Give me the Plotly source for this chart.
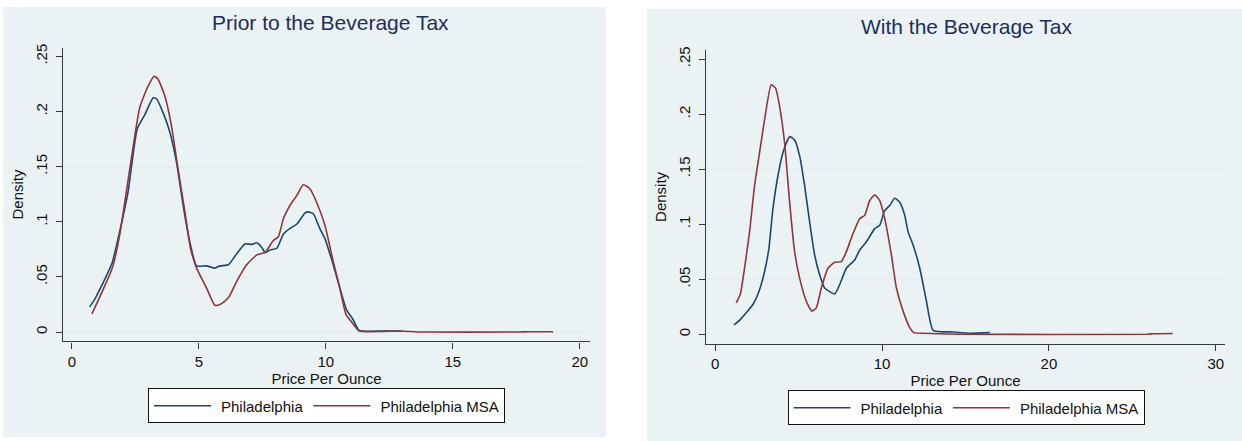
import plotly.graph_objects as go

# ---------------- data ----------------
pre_phila_x = [0.70, 0.89, 1.22, 1.58, 1.88, 2.21, 2.57, 2.87, 3.20, 3.33, 3.59, 3.86, 4.12, 4.38,
               4.64, 4.91, 5.30, 5.63, 5.83, 6.16, 6.49, 6.82, 7.08, 7.28, 7.47, 7.61, 7.80, 8.07,
               8.33, 8.59, 8.86, 9.18, 9.30, 9.50, 9.76, 9.96, 10.29, 10.55, 10.81, 11.07, 11.31,
               12.26, 13.0]
pre_phila_y = [0.0228, 0.0294, 0.0444, 0.0624, 0.091, 0.127, 0.184, 0.197, 0.2125, 0.2116, 0.199,
               0.181, 0.154, 0.115, 0.082, 0.060, 0.060, 0.058, 0.060, 0.061, 0.071, 0.080, 0.0795,
               0.081, 0.077, 0.072, 0.0744, 0.076, 0.089, 0.094, 0.098, 0.108, 0.109, 0.1075, 0.094,
               0.085, 0.061, 0.040, 0.0204, 0.0114, 0.0015, 0.001, 0.0008]

pre_msa_x = [0.79, 1.22, 1.59, 1.88, 2.28, 2.67, 3.00, 3.24, 3.39, 3.66, 3.92, 4.18, 4.45, 4.67,
             4.91, 5.30, 5.63, 5.83, 6.16, 6.49, 6.88, 7.28, 7.61, 7.93, 8.13, 8.33, 8.59, 8.86,
             9.11, 9.37, 9.63, 9.96, 10.29, 10.55, 10.79, 11.07, 11.31, 12.9, 13.83, 17.5, 18.0,
             18.95]
pre_msa_y = [0.0165, 0.038, 0.058, 0.088, 0.148, 0.2035, 0.223, 0.232, 0.2296, 0.214, 0.187, 0.148,
             0.109, 0.076, 0.058, 0.040, 0.0243, 0.025, 0.031, 0.046, 0.061, 0.070, 0.0723, 0.083,
             0.0864, 0.103, 0.115, 0.124, 0.1336, 0.130, 0.118, 0.097, 0.064, 0.040, 0.016, 0.0075,
             0.001, 0.001, 0.0, 0.0, 0.0003, 0.0003]

post_phila_x = [1.12, 1.46, 1.86, 2.26, 2.66, 2.96, 3.22, 3.46, 3.76, 4.06, 4.46, 4.76, 5.06, 5.36,
                5.66, 5.96, 6.26, 6.56, 7.16, 7.46, 7.86, 8.36, 8.66, 9.06, 9.56, 9.86, 10.16, 10.46,
                10.76, 11.06, 11.36, 11.56, 11.86, 12.26, 12.66, 13.06, 14.26, 15.26, 16.45]
post_phila_y = [0.0084, 0.0126, 0.0195, 0.027, 0.0405, 0.057, 0.078, 0.114, 0.144, 0.165, 0.1795,
                0.1765, 0.162, 0.135, 0.102, 0.072, 0.054, 0.042, 0.0366, 0.045, 0.060, 0.0675,
                0.0765, 0.084, 0.096, 0.099, 0.1125, 0.117, 0.1236, 0.120, 0.108, 0.093, 0.081,
                0.060, 0.030, 0.0036, 0.002, 0.0008, 0.0015]

post_msa_x = [1.26, 1.50, 1.76, 2.06, 2.36, 2.66, 2.96, 3.36, 3.62, 3.86, 4.16, 4.46, 4.76, 5.06,
              5.46, 5.80, 6.06, 6.36, 6.76, 7.16, 7.56, 7.86, 8.26, 8.66, 8.96, 9.26, 9.56, 9.86,
              10.16, 10.56, 10.86, 11.26, 11.66, 11.9, 12.46, 14.46, 25.9, 26.3, 27.42]
post_msa_y = [0.0285, 0.036, 0.060, 0.093, 0.135, 0.165, 0.195, 0.2266, 0.2236, 0.207, 0.174, 0.120,
              0.075, 0.051, 0.030, 0.021, 0.024, 0.042, 0.060, 0.0654, 0.066, 0.075, 0.0915, 0.105,
              0.108, 0.1215, 0.1266, 0.1215, 0.105, 0.072, 0.042, 0.021, 0.006, 0.0015, 0.0009,
              0.0, 0.0, 0.0005, 0.0007]

series_names = ["Philadelphia", "Philadelphia MSA"]
panel_titles = ["Prior to the Beverage Tax", "With the Beverage Tax"]
y_ticks = [0, 0.05, 0.1, 0.15, 0.2, 0.25]
y_ticklabels = ["0", ".05", ".1", ".15", ".2", ".25"]
x_ticks_pre = [0, 5, 10, 15, 20]
x_ticks_post = [0, 10, 20, 30]

# ---------------- styling ----------------
W, H = 1242, 441
BLUE = "#1A476F"
RED = "#90353B"
BG = "#EAF2F3"
GRID = "#E6EFF0"
AXIS = "#3a3a3a"
FONT = "Liberation Sans, Arial, sans-serif"


def fx(px):
    return px / W


def fy(py):
    return (H - py) / H


fig = go.Figure()
line_kw = dict(shape="spline", smoothing=0.5, width=1.6)

fig.add_trace(go.Scatter(x=pre_phila_x, y=pre_phila_y, mode="lines", name=series_names[0],
                         line=dict(color=BLUE, **line_kw), xaxis="x", yaxis="y", legend="legend"))
fig.add_trace(go.Scatter(x=pre_msa_x, y=pre_msa_y, mode="lines", name=series_names[1],
                         line=dict(color=RED, **line_kw), xaxis="x", yaxis="y", legend="legend"))
fig.add_trace(go.Scatter(x=post_phila_x, y=post_phila_y, mode="lines", name=series_names[0],
                         line=dict(color=BLUE, **line_kw), xaxis="x2", yaxis="y2", legend="legend2"))
fig.add_trace(go.Scatter(x=post_msa_x, y=post_msa_y, mode="lines", name=series_names[1],
                         line=dict(color=RED, **line_kw), xaxis="x2", yaxis="y2", legend="legend2"))

axis_common = dict(showline=True, linecolor=AXIS, linewidth=1.4, ticks="outside", ticklen=6,
                   tickwidth=1.2, tickcolor=AXIS, zeroline=False, mirror=False,
                   tickfont=dict(family=FONT, size=15, color="#111"))

xaxis_common = dict(axis_common, showgrid=False,
                    title=dict(text="Price Per Ounce", font=dict(family=FONT, size=15, color="#111"),
                               standoff=4))
yaxis_common = dict(axis_common, showgrid=True, gridcolor=GRID, gridwidth=1.6,
                    tickvals=y_ticks, ticktext=y_ticklabels, tickangle=-90, ticklabelstandoff=3,
                    title=dict(text="Density", font=dict(family=FONT, size=15, color="#111"),
                               standoff=5))

legend_common = dict(orientation="h", xanchor="center", yanchor="top",
                     bgcolor="white", bordercolor="#111", borderwidth=1,
                     font=dict(family=FONT, size=15, color="#111"), itemwidth=62)

fig.update_layout(
    width=W, height=H,
    margin=dict(l=0, r=0, t=0, b=0),
    paper_bgcolor="white",
    plot_bgcolor="white",
    showlegend=True,
    xaxis=dict(xaxis_common, domain=[fx(63), fx(590)], range=[-0.35, 20.4],
               tickvals=x_ticks_pre, anchor="y"),
    yaxis=dict(yaxis_common, domain=[fy(340.5), fy(44)], range=[-0.0085, 0.258], anchor="x"),
    xaxis2=dict(xaxis_common, domain=[fx(706), fx(1225)], range=[-0.55, 30.55],
                tickvals=x_ticks_post, anchor="y2"),
    yaxis2=dict(yaxis_common, domain=[fy(342.7), fy(46.7)], range=[-0.0085, 0.258], anchor="x2"),
    legend=dict(legend_common, x=fx(326.5), y=fy(388)),
    legend2=dict(legend_common, x=fx(966), y=fy(390)),
    shapes=[
        dict(type="rect", xref="paper", yref="paper", x0=fx(3), x1=fx(606), y0=fy(437), y1=fy(3),
             fillcolor=BG, line=dict(width=0), layer="below"),
        dict(type="rect", xref="paper", yref="paper", x0=fx(647), x1=1, y0=0, y1=fy(5),
             fillcolor=BG, line=dict(width=0), layer="below"),
    ],
    annotations=[
        dict(text=panel_titles[0], xref="paper", yref="paper", x=fx(330), y=fy(19),
             xanchor="center", yanchor="middle", showarrow=False,
             font=dict(family=FONT, size=21, color="#1E2E5C")),
        dict(text=panel_titles[1], xref="paper", yref="paper", x=fx(966), y=fy(23),
             xanchor="center", yanchor="middle", showarrow=False,
             font=dict(family=FONT, size=21, color="#1E2E5C")),
    ],
)

# page styling: no body margin, and longer legend key lines (Stata-like 57px keys)
post_js = """
document.body.style.margin='0';
document.body.style.overflow='hidden';
function longKeys(){
  document.querySelectorAll('.legendlines path').forEach(function(p){
    p.setAttribute('d','M5,0h57');
  });
}
longKeys();
setTimeout(longKeys, 0);
setTimeout(longKeys, 200);
"""

fig.write_html("out.html", config={"displayModeBar": False}, post_script=post_js)
